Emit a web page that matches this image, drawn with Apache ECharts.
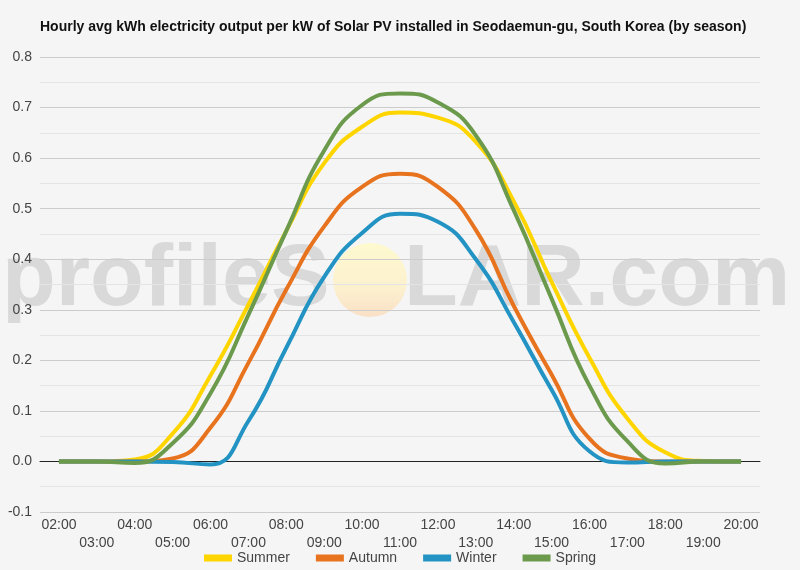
<!DOCTYPE html>
<html>
<head>
<meta charset="utf-8">
<script src="https://cdn.jsdelivr.net/npm/echarts@6/dist/echarts.min.js"></script>
<style>
    html, body { margin: 0; padding: 0; background: #f5f5f5; }
    #main { width: 800px; height: 570px; }
</style>
</head>
<body>
<div id="main"></div>
<script>
// hours on the x axis
var hours = ['02:00', '03:00', '04:00', '05:00', '06:00', '07:00', '08:00', '09:00', '10:00', '11:00',
    '12:00', '13:00', '14:00', '15:00', '16:00', '17:00', '18:00', '19:00', '20:00'];
// kWh per kW
var summer = [0, 0, 0.004, 0.055, 0.17, 0.31, 0.456, 0.59, 0.662, 0.69, 0.68, 0.632, 0.515, 0.355, 0.205, 0.085, 0.018, 0.001, 0];
var autumn = [0, 0, 0, 0.006, 0.067, 0.195, 0.34, 0.465, 0.543, 0.569, 0.543, 0.458, 0.308, 0.172, 0.045, 0.006, 0, 0, 0];
var winter = [0, 0, 0, -0.001, -0.006, 0.08, 0.225, 0.365, 0.452, 0.49, 0.474, 0.4, 0.276, 0.142, 0.02, -0.002, 0, 0, 0];
var spring = [0, 0, -0.003, 0.036, 0.135, 0.29, 0.456, 0.615, 0.705, 0.728, 0.71, 0.645, 0.497, 0.322, 0.15, 0.04, -0.004, 0, 0];
var seasonNames = ['Summer', 'Autumn', 'Winter', 'Spring'];
var seasonColors = ['#ffd500', '#e8731e', '#2293c3', '#6c9a4c'];

var chart = echarts.init(document.getElementById('main'));

function makeSeries(name, data, color) {
    return {
        name: name,
        type: 'line',
        data: data,
        smooth: 0.5,
        symbol: 'none',
        lineStyle: { width: 4, color: color },
        itemStyle: { color: color },
        z: 3
    };
}

var wmFill = 'rgba(190,190,190,0.5)';

var option = {
    backgroundColor: '#f5f5f5',
    animation: false,
    title: {
        text: 'Hourly avg kWh electricity output per kW of Solar PV installed in Seodaemun-gu, South Korea (by season)',
        left: 40,
        top: 20,
        padding: 0,
        textStyle: { fontFamily: 'Liberation Sans', fontSize: 14, fontWeight: 'bold', color: '#111' }
    },
    legend: {
        bottom: 0,
        left: 'center',
        itemWidth: 28,
        itemHeight: 7,
        itemGap: 26,
        icon: 'rect',
        textStyle: { fontFamily: 'Liberation Sans', fontSize: 14, color: '#444' },
        data: seasonNames
    },
    graphic: [{
        type: 'text',
        silent: true,
        z: 0,
        left: 2,
        top: 237,
        style: { text: 'profileS', font: 'bold 88px "Liberation Sans"', fill: wmFill }
    }, {
        type: 'circle',
        silent: true,
        z: 0,
        shape: { cx: 370, cy: 280, r: 37 },
        style: {
            fill: new echarts.graphic.LinearGradient(0, 0, 0, 1, [
                { offset: 0, color: 'rgba(255,250,200,0.85)' },
                { offset: 0.6, color: 'rgba(253,240,200,0.85)' },
                { offset: 1, color: 'rgba(250,220,190,0.85)' }
            ])
        }
    }, {
        type: 'text',
        silent: true,
        z: 0,
        left: 404,
        top: 237,
        style: { text: 'LAR.com', font: 'bold 88px "Liberation Sans"', fill: wmFill }
    }],
    grid: { left: 40, right: 40, top: 57, bottom: 58, containLabel: false, outerBoundsMode: 'none' },
    xAxis: {
        type: 'category',
        data: hours,
        boundaryGap: true,
        axisLine: { onZero: true, lineStyle: { color: '#222', width: 1 } },
        axisTick: { show: false },
        axisLabel: {
            interval: 0,
            margin: 4,
            fontFamily: 'Liberation Sans',
            fontSize: 14,
            color: '#444',
            lineHeight: 18,
            hideOverlap: false,
            formatter: function(value, index) {
                return index % 2 ? '\n' + value : value;
            }
        }
    },
    yAxis: {
        type: 'value',
        min: -0.1,
        max: 0.8,
        interval: 0.1,
        axisLine: { show: false },
        axisTick: { show: false },
        axisLabel: {
            margin: 8,
            fontFamily: 'Liberation Sans',
            fontSize: 14,
            color: '#444',
            formatter: function(v) { return v.toFixed(1); }
        },
        splitLine: { lineStyle: { color: '#cccccc' } },
        minorTick: { show: false, splitNumber: 2 },
        minorSplitLine: { show: true, lineStyle: { color: '#e4e4e4' } }
    },
    series: [
        makeSeries(seasonNames[0], summer, seasonColors[0]),
        makeSeries(seasonNames[1], autumn, seasonColors[1]),
        makeSeries(seasonNames[2], winter, seasonColors[2]),
        makeSeries(seasonNames[3], spring, seasonColors[3])
    ]
};

chart.setOption(option);
</script>
</body>
</html>
